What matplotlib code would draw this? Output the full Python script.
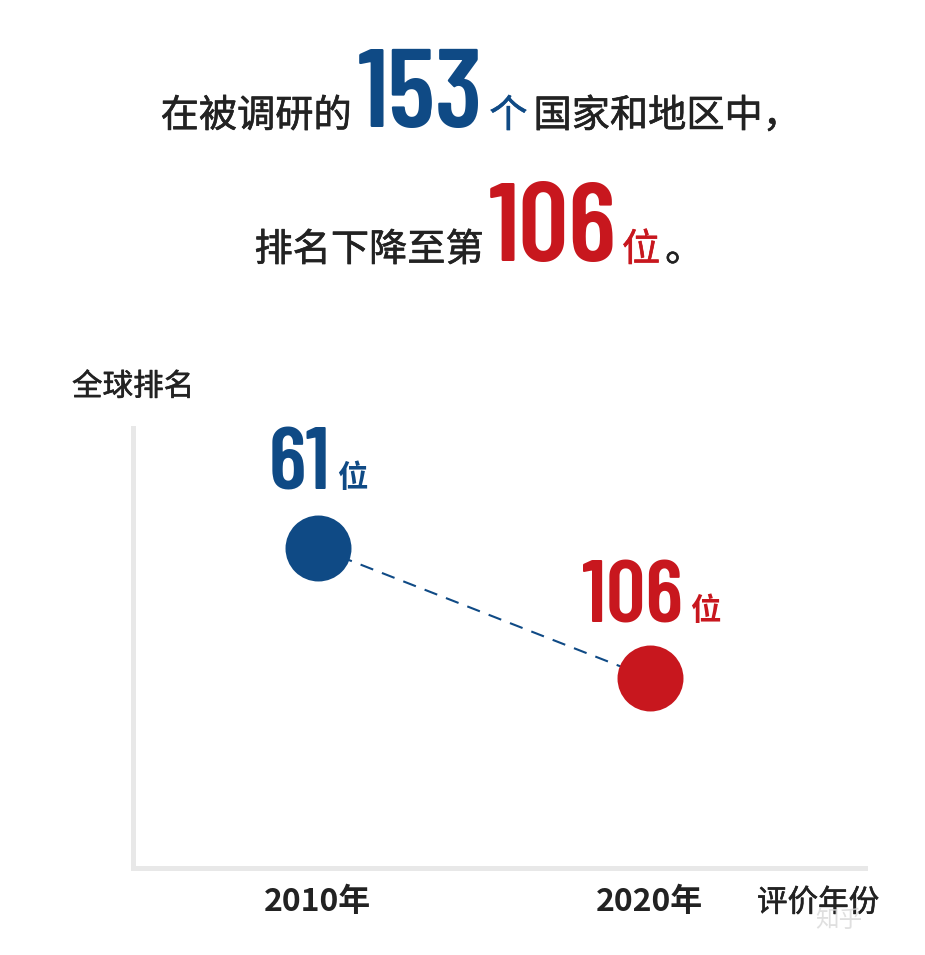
import matplotlib
matplotlib.use("Agg")
import matplotlib.pyplot as plt
import matplotlib.patheffects as pe

# ---------------- data ----------------
years = [2010, 2020]
ranks = [61, 106]
rank_labels = ["61", "106"]
rank_suffix = "位"
point_colors = ["#0f4a85", "#c8171e"]
year_labels = ["2010年", "2020年"]
y_axis_title = "全球排名"
x_axis_title = "评价年份"
total_countries = "153"
latest_rank = "106"

BLUE = "#0f4a85"
RED = "#c8171e"
DARK = "#222222"
GRID = "#e8e8e8"
CJK = ["Noto Sans CJK SC", "DejaVu Sans"]
NUM = ["Barlow Condensed", "DejaVu Sans"]

W, H = 925, 955
fig = plt.figure(figsize=(W / 100, H / 100), dpi=100)
fig.patch.set_facecolor("white")


def medium(color, lw=0.45):
    return [pe.withStroke(linewidth=lw, foreground=color)]


# ---------------- title (two lines of mixed text) ----------------
TS = 27.5
line1 = [
    ("在被调研的", DARK, CJK, TS, "normal"),
    (total_countries, BLUE, NUM, 80, 600),
    ("个", BLUE, CJK, TS, "normal"),
    ("国家和地区中，", DARK, CJK, TS, "normal"),
]
line2 = [
    ("排名下降至第", DARK, CJK, TS, "normal"),
    (latest_rank, RED, NUM, 80, 600),
    ("位", RED, CJK, TS, "normal"),
    ("。", DARK, CJK, TS, "normal"),
]

renderer = fig.canvas.get_renderer()


def draw_line(parts, baseline_px, center_px, pad_px=6):
    texts = []
    for s, c, fam, size, wt in parts:
        t = fig.text(0, 0, s, color=c, family=fam, fontsize=size,
                     fontweight=wt, ha="left", va="baseline")
        if fam is CJK:
            t.set_path_effects(medium(c))
        texts.append(t)
    widths = [t.get_window_extent(renderer).width for t in texts]
    total = sum(widths) + pad_px * (len(texts) - 1)
    x = center_px - total / 2
    for t, w in zip(texts, widths):
        t.set_position((x / W, 1 - baseline_px / H))
        x += w + pad_px


draw_line(line1, 127, 481)
draw_line(line2, 261, 479, pad_px=5)

# ---------------- chart ----------------
ax = fig.add_axes([133 / W, 1 - 868 / H, (865 - 133) / W, (868 - 428) / H])
ax.set_xlim(2004.43, 2026.48)
ax.set_ylim(171.8, 19.5)
for side in ["top", "right"]:
    ax.spines[side].set_visible(False)
for side in ["left", "bottom"]:
    ax.spines[side].set_color(GRID)
    ax.spines[side].set_linewidth(3.6)
ax.set_yticks([])
ax.set_xticks(years, labels=year_labels)
ax.tick_params(axis="x", length=0, pad=13, labelsize=23, labelcolor=DARK)
for lab in ax.get_xticklabels():
    lab.set_fontfamily(CJK)
    lab.set_fontweight("bold")

ax.plot(years, ranks, linestyle=(0, (6.5, 4.5)), color=BLUE, lw=1.5, zorder=2)
for x, y, c in zip(years, ranks, point_colors):
    ax.plot(x, y, "o", ms=47.5, color=c, mec="none", zorder=3)

num_offsets = [(9, 42), (24, 40)]
for x, y, lab, c, (dx, dy) in zip(years, ranks, rank_labels, point_colors, num_offsets):
    ax.annotate(lab, xy=(x, y), xytext=(dx, dy), textcoords="offset points",
                ha="right", va="baseline", color=c, family=NUM,
                fontweight=600, fontsize=63)
    ax.annotate(rank_suffix, xy=(x, y), xytext=(dx + 5, dy + 2), textcoords="offset points",
                ha="left", va="baseline", color=c, family=CJK,
                fontweight="bold", fontsize=22)

fig.text(72 / W, 1 - 387 / H, y_axis_title, ha="left", va="center",
         family=CJK, fontsize=22, color=DARK, path_effects=medium(DARK, 0.4))
fig.text(757 / W, 1 - 903 / H, x_axis_title, ha="left", va="center",
         family=CJK, fontsize=22, color=DARK, path_effects=medium(DARK, 0.4))
fig.text(815 / W, 1 - 920 / H, "知乎", ha="left", va="center",
         family=CJK, fontsize=17, color="#d8d8d8", alpha=0.8)

fig.savefig("out.png", dpi=100, facecolor="white")
